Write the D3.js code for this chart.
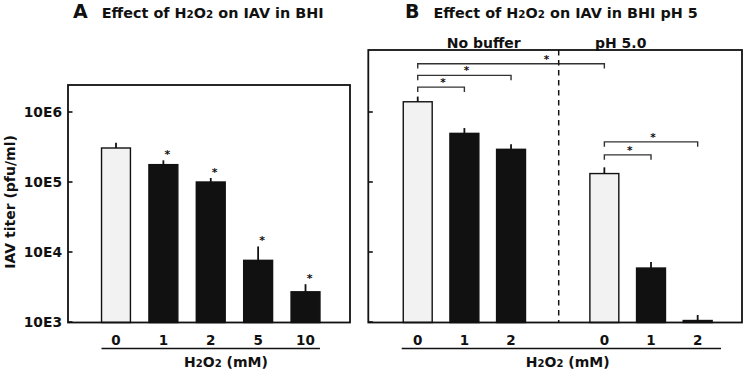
<!DOCTYPE html>
<html>
<head>
<meta charset="utf-8">
<script src="https://cdn.jsdelivr.net/npm/d3@7"></script>
<style>
  body { margin: 0; background: #fff; }
  text { font-family: "DejaVu Sans", sans-serif; font-weight: bold; fill: #111; }
</style>
</head>
<body>
<svg id="chart" width="744" height="371"></svg>
<script>
// panel A: H2O2 in BHI
const concA = ["0", "1", "2", "5", "10"];
const titerA = [306000, 177000, 100000, 7600, 2700];
const errA = [57000, 27000, 14000, 4400, 770];
const sigA = [false, true, true, true, true];

// panel B: no buffer vs pH 5.0
const groupsB = ["No buffer", "pH 5.0"];
const concB = ["0", "1", "2", "0", "1", "2"];
const groupOfB = [0, 0, 0, 1, 1, 1];
const titerB = [1400000, 495000, 293000, 132000, 5900, 1050];
const errB = [260000, 95000, 54000, 30000, 1300, 210];
// significance brackets: [from bar, to bar, level]
const bracketsB = [[0, 3, 2], [0, 2, 1], [0, 1, 0], [3, 5, 1], [3, 4, 0]];

const yTicks = [1e3, 1e4, 1e5, 1e6];
const yTickLabels = ["10E3", "10E4", "10E5", "10E6"];

const svg = d3.select("#chart");
const ink = "#111";
const light = "#f2f2f2";

const y = d3.scaleLog().domain([1e3, 1e6]).range([322, 112]);
const yBottom = 322.5;

function sub2(sel, text, size) {
  // writes "H2O2 (mM)"-style text with small 2s
  const parts = text.split(/(2)/);
  parts.forEach(p => {
    if (p === "2") sel.append("tspan").attr("font-size", size * 0.72).text("2");
    else if (p) sel.append("tspan").text(p);
  });
}

// ---------- Panel A ----------
const xA = d3.scaleBand().domain(d3.range(concA.length))
  .range([92.3, 329.2]).paddingInner(0.39).paddingOuter(0.195);
const frameA = { l: 68, r: 350, t: 85 };

const gA = svg.append("g");
gA.selectAll(".bar").data(titerA).join("rect")
  .attr("x", (d, i) => xA(i))
  .attr("width", xA.bandwidth())
  .attr("y", d => y(d))
  .attr("height", d => yBottom - y(d))
  .attr("fill", (d, i) => i === 0 ? light : ink)
  .attr("stroke", ink).attr("stroke-width", 1.4);

gA.selectAll(".err").data(titerA).join("line")
  .attr("x1", (d, i) => xA(i) + xA.bandwidth() / 2)
  .attr("x2", (d, i) => xA(i) + xA.bandwidth() / 2)
  .attr("y1", d => y(d))
  .attr("y2", (d, i) => y(d + errA[i]))
  .attr("stroke", ink).attr("stroke-width", 1.8);

gA.selectAll(".star").data(titerA.map((d, i) => i).filter(i => sigA[i])).join("text")
  .attr("x", i => xA(i) + xA.bandwidth() / 2 + 4)
  .attr("y", i => y(titerA[i] + errA[i]) - 2)
  .attr("text-anchor", "middle").attr("font-size", 11)
  .text("*");

gA.append("rect")
  .attr("x", frameA.l).attr("y", frameA.t)
  .attr("width", frameA.r - frameA.l).attr("height", yBottom - frameA.t)
  .attr("fill", "none").attr("stroke", ink).attr("stroke-width", 1.8);

gA.selectAll(".ytick").data(yTicks).join("line")
  .attr("x1", frameA.l).attr("x2", frameA.l + 4.5)
  .attr("y1", d => y(d)).attr("y2", d => y(d))
  .attr("stroke", ink).attr("stroke-width", 1.6);
gA.selectAll(".ylab").data(yTicks).join("text")
  .attr("x", frameA.l - 6).attr("y", d => y(d))
  .attr("dy", "0.36em").attr("text-anchor", "end").attr("font-size", 13.8)
  .text((d, i) => yTickLabels[i]);

gA.append("text")
  .attr("transform", "translate(15,202) rotate(-90)")
  .attr("text-anchor", "middle").attr("font-size", 14)
  .text("IAV titer (pfu/ml)");

gA.selectAll(".xlab").data(concA).join("text")
  .attr("x", (d, i) => xA(i) + xA.bandwidth() / 2)
  .attr("y", 345).attr("text-anchor", "middle").attr("font-size", 13.5)
  .text(d => d);
gA.append("line").attr("x1", xA(0)).attr("x2", xA(concA.length - 1) + xA.bandwidth())
  .attr("y1", 348.5).attr("y2", 348.5).attr("stroke", ink).attr("stroke-width", 1.4);
sub2(gA.append("text").attr("x", 226).attr("y", 367).attr("text-anchor", "middle").attr("font-size", 14),
  "H2O2 (mM)", 14);

const tA = gA.append("text").attr("x", 73).attr("y", 18).attr("font-size", 14.4);
tA.append("tspan").attr("font-size", 19).text("A");
const tA2 = tA.append("tspan").attr("dx", 14);
sub2(tA2, "Effect of H2O2 on IAV in BHI", 14.4);

// ---------- Panel B ----------
const slotsB = [0, 1, 2, 4, 5, 6];
const xB = d3.scaleBand().domain(d3.range(7))
  .range([394.4, 721]).paddingInner(0.38).paddingOuter(0.19);
const frameB = { l: 368.3, r: 742, t: 50 };
const cx = i => xB(slotsB[i]) + xB.bandwidth() / 2;

const gB = svg.append("g");
gB.selectAll(".bar").data(titerB).join("rect")
  .attr("x", (d, i) => xB(slotsB[i]))
  .attr("width", xB.bandwidth())
  .attr("y", d => y(d))
  .attr("height", d => yBottom - y(d))
  .attr("fill", (d, i) => concB[i] === "0" ? light : ink)
  .attr("stroke", ink).attr("stroke-width", 1.4);

gB.selectAll(".err").data(titerB).join("line")
  .attr("x1", (d, i) => cx(i)).attr("x2", (d, i) => cx(i))
  .attr("y1", d => y(d))
  .attr("y2", (d, i) => y(d + errB[i]))
  .attr("stroke", ink).attr("stroke-width", 1.8);

// brackets
bracketsB.forEach(([a, b, lvl]) => {
  const base = y(titerB[a] + errB[a]);
  const gap = groupOfB[a] === 0 ? 11.7 : 13;
  const by = base - 9.5 - lvl * gap - (groupOfB[a] === 0 ? 0 : 3);
  const x1 = cx(a), x2 = cx(b);
  gB.append("path")
    .attr("d", `M${x1},${by + 4.8}V${by}H${x2}V${by + 4.8}`)
    .attr("fill", "none").attr("stroke", "#333").attr("stroke-width", 1.4);
  const sx = b === 3 && a === 0 ? x1 + (x2 - x1) * 0.69 : (x1 + x2) / 2 + 2;
  gB.append("text").attr("x", sx).attr("y", by - 1)
    .attr("text-anchor", "middle").attr("font-size", 10.5).text("*");
});

gB.append("rect")
  .attr("x", frameB.l).attr("y", frameB.t)
  .attr("width", frameB.r - frameB.l).attr("height", yBottom - frameB.t)
  .attr("fill", "none").attr("stroke", ink).attr("stroke-width", 1.8);

gB.selectAll(".ytick").data(yTicks).join("line")
  .attr("x1", frameB.l).attr("x2", frameB.l + 4.5)
  .attr("y1", d => y(d)).attr("y2", d => y(d))
  .attr("stroke", ink).attr("stroke-width", 1.6);

const dashX = xB(3) + xB.bandwidth() / 2 + 1;
gB.append("line").attr("x1", dashX).attr("x2", dashX)
  .attr("y1", frameB.t).attr("y2", yBottom)
  .attr("stroke", ink).attr("stroke-width", 1.5).attr("stroke-dasharray", "5.5,4.5");

gB.selectAll(".grp").data(groupsB).join("text")
  .attr("x", (d, i) => i === 0 ? (cx(1) + cx(2)) / 2 - 4 : (cx(3) + cx(4)) / 2 - 7)
  .attr("y", 48).attr("text-anchor", "middle").attr("font-size", 14)
  .text(d => d);

gB.selectAll(".xlab").data(concB).join("text")
  .attr("x", (d, i) => cx(i))
  .attr("y", 345).attr("text-anchor", "middle").attr("font-size", 13.5)
  .text(d => d);
gB.append("line").attr("x1", xB.range()[0] + 7.3).attr("x2", xB.range()[1])
  .attr("y1", 348.5).attr("y2", 348.5).attr("stroke", ink).attr("stroke-width", 1.4);
sub2(gB.append("text").attr("x", 567.7).attr("y", 367).attr("text-anchor", "middle").attr("font-size", 14),
  "H2O2 (mM)", 14);

const tB = gB.append("text").attr("x", 405).attr("y", 18).attr("font-size", 14.4);
tB.append("tspan").attr("font-size", 19).text("B");
const tB2 = tB.append("tspan").attr("dx", 14);
sub2(tB2, "Effect of H2O2 on IAV in BHI pH 5", 14.4);
</script>
</body>
</html>
